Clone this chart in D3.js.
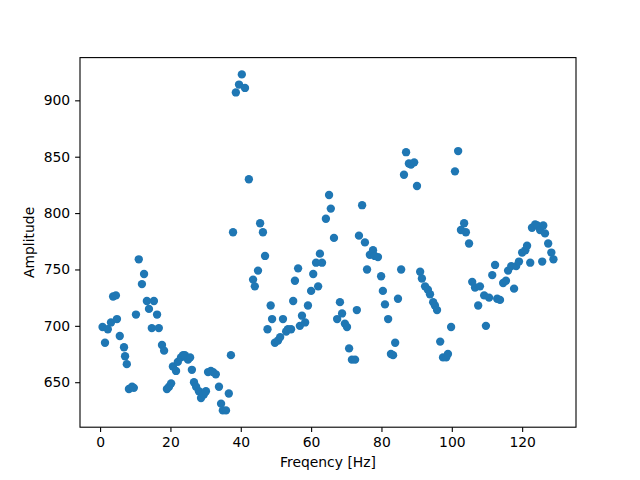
<!DOCTYPE html>
<html><head><meta charset="utf-8">
<script src="https://cdn.jsdelivr.net/npm/d3@7"></script>
<style>body{margin:0;background:#fff}svg{display:block}</style>
</head><body>
<script>
const freq = [0.7,1.4,2.2,3.1,3.7,4.5,4.8,5.6,6.8,7.1,7.6,8.2,9.1,9.6,10.2,11.0,11.9,12.5,13.3,13.9,14.7,15.3,16.2,16.7,17.6,18.2,19.0,19.6,20.2,20.7,21.6,22.1,23.0,23.6,24.1,25.0,25.6,26.1,26.7,27.3,28.1,28.7,29.5,30.1,30.7,31.5,32.1,32.9,33.8,34.4,34.9,35.8,36.6,37.2,37.8,38.6,39.5,40.3,41.2,42.3,43.5,44.0,44.9,45.5,46.3,46.9,47.6,48.5,48.9,49.7,50.6,51.2,52.0,52.9,53.4,54.3,54.9,55.4,56.3,56.8,57.4,58.3,59.1,60.0,60.6,61.4,62.0,62.5,63.1,64.2,65.1,65.6,66.5,67.4,68.2,68.8,69.6,70.2,70.8,71.6,72.5,73.0,73.6,74.5,75.3,75.9,76.7,77.6,78.1,79.0,79.9,80.4,81.0,81.9,82.7,83.3,83.9,84.7,85.6,86.4,87.0,87.8,88.4,89.3,90.1,91.0,91.5,92.4,93.2,93.8,94.7,95.2,95.8,96.7,97.5,98.4,98.9,99.8,100.9,101.8,102.6,103.5,104.0,104.9,105.8,106.6,107.5,108.0,109.2,109.7,110.6,111.5,112.3,112.9,113.7,114.6,115.4,116.0,116.9,117.7,118.3,119.1,120.0,120.9,121.4,122.3,122.8,123.7,124.3,125.1,125.7,126.0,126.5,127.4,128.3,128.9];
const amplitude = [699,685,697,703,726,727,706,691,681,673,666,644,646,645,710,759,737,746,722,715,698,722,710,698,683,678,644,646,649,664,660,668,672,674,674,670,672,661,650,646,642,636,639,642,659,660,659,657,646,631,625,625,640,674,783,907,914,923,911,830,741,735,749,791,783,762,697,718,706,685,687,690,706,695,697,697,722,740,751,700,709,703,718,731,746,756,735,764,756,795,816,804,778,706,721,711,702,699,680,670,670,714,780,807,774,750,763,767,762,761,744,731,719,706,675,674,685,724,750,834,854,844,843,845,824,748,742,735,732,728,721,718,714,686,672,672,675,699,837,855,785,791,783,773,739,734,718,735,727,700,725,745,754,724,723,738,740,749,753,733,753,757,765,767,771,756,787,790,789,785,757,789,782,773,765,759];
const xTicks = [0,20,40,60,80,100,120];
const yTicks = [650,700,750,800,850,900];

const W = 640, H = 480;
const m = {left: 80, right: 64, top: 57.6, bottom: 52.8};
const svg = d3.select("body").append("svg").attr("width", W).attr("height", H);

function padded(ext){ const d = (ext[1]-ext[0])*0.05; return [ext[0]-d, ext[1]+d]; }
const x = d3.scaleLinear().domain(padded(d3.extent(freq))).range([m.left, W - m.right]);
const y = d3.scaleLinear().domain(padded(d3.extent(amplitude))).range([H - m.bottom, m.top]);

const data = freq.map((f,i)=>({f, a: amplitude[i]}));

svg.append("g").selectAll("circle").data(data).join("circle")
  .attr("cx", d => x(d.f)).attr("cy", d => y(d.a)).attr("r", 4.17)
  .attr("fill", "#1f77b4");

const font = "DejaVu Sans, sans-serif";
const xAxis = svg.append("g").attr("transform", `translate(0,${H - m.bottom})`)
  .call(d3.axisBottom(x).tickValues(xTicks).tickSize(4.9).tickPadding(4.9).tickSizeOuter(0));
const yAxis = svg.append("g").attr("transform", `translate(${m.left},0)`)
  .call(d3.axisLeft(y).tickValues(yTicks).tickSize(4.9).tickPadding(4.9).tickSizeOuter(0));
[xAxis, yAxis].forEach(g => {
  g.select(".domain").remove();
  g.selectAll(".tick line").attr("stroke", "#000").attr("stroke-width", 1.1);
  g.selectAll(".tick text").attr("fill", "#000").style("font-family", font).style("font-size", "13.9px");
});

svg.append("rect").attr("x", m.left).attr("y", m.top)
  .attr("width", W - m.left - m.right).attr("height", H - m.top - m.bottom)
  .attr("fill", "none").attr("stroke", "#000").attr("stroke-width", 1.1);

svg.append("text").attr("x", (m.left + W - m.right)/2).attr("y", 467)
  .attr("text-anchor", "middle").style("font-family", font).style("font-size", "13.9px")
  .text("Freqency [Hz]");
svg.append("text").attr("transform", `translate(34,${(m.top + H - m.bottom)/2}) rotate(-90)`)
  .attr("text-anchor", "middle").style("font-family", font).style("font-size", "13.9px")
  .text("Amplitude");
</script>
</body></html>
